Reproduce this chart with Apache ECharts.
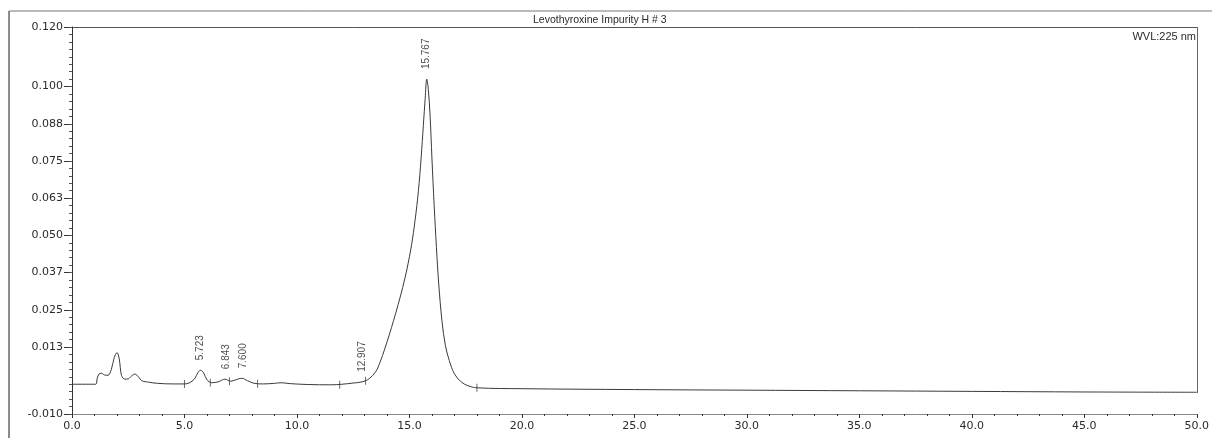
<!DOCTYPE html>
<html>
<head>
<meta charset="utf-8">
<script src="https://cdn.jsdelivr.net/npm/echarts@6/dist/echarts.min.js"></script>
<style>
html, body { margin: 0; padding: 0; background: #fff; }
#chart { width: 1212px; height: 438px; }
</style>
</head>
<body>
<div id="chart"></div>
<script>
// retention time (min) and absorbance (AU)
var times = [0.0, 1.05, 1.12, 1.2, 1.3, 1.45, 1.6, 1.75, 1.88, 2.0, 2.1, 2.2, 2.35, 2.5, 2.65, 2.8, 2.95, 3.1, 3.4, 3.8, 4.5,
    5.0, 5.2, 5.45, 5.6, 5.72, 5.85, 6.0, 6.2, 6.5, 6.8, 7.05, 7.25, 7.55, 7.8, 8.1, 8.5, 9.0, 9.3, 9.7, 10.5, 11.5, 12.0,
    12.5, 12.9, 13.2, 13.5, 13.7, 13.9, 14.1, 14.3, 14.5, 14.7, 14.9, 15.1, 15.25, 15.4, 15.52, 15.62, 15.7, 15.77,
    15.84, 15.92, 16.0, 16.1, 16.2, 16.3, 16.45, 16.6, 16.77, 17.0, 17.3, 17.6, 18.0, 20.0, 25.0, 30.0, 35.0, 40.0, 45.0, 50.0];
var absorbance = [0, 0, 0.0020, 0.0034, 0.0037, 0.0031, 0.0030, 0.0050, 0.0090, 0.0106, 0.0085, 0.0030, 0.0017, 0.0018, 0.0028, 0.0034, 0.0025, 0.0012, 0.0007, 0.0003, 0.0001,
    0.0001, 0.0004, 0.0018, 0.0040, 0.0047, 0.0038, 0.0015, 0.0005, 0.0008, 0.0017, 0.0010, 0.0014, 0.0020, 0.0012, 0.0003, 0.0001, 0.0003, 0.0005, 0.0002, -0.0001, -0.0002, 0.0000,
    0.0004, 0.0008, 0.0018, 0.0042, 0.0075, 0.0118, 0.0165, 0.0215, 0.0268, 0.0325, 0.0390, 0.0470, 0.0550, 0.0650, 0.0760, 0.0870, 0.0960, 0.1025,
    0.0990, 0.0900, 0.0760, 0.0600, 0.0460, 0.0340, 0.0210, 0.0130, 0.0080, 0.0035, 0.0008, -0.0005, -0.0012, -0.0015, -0.0018, -0.0020, -0.0022, -0.0024, -0.0026, -0.0027];

// labelled peaks
var peakTimes = [5.723, 6.843, 7.600, 12.907, 15.767];
var peakHeights = [0.0047, 0.0017, 0.0020, 0.0008, 0.1025];

// integration delimiters
var delimTimes = [5.0, 6.15, 7.0, 8.25, 11.9, 13.05, 18.0];
var delimValues = [0.0001, 0.0005, 0.0010, 0.0002, -0.0002, 0.0012, -0.0012];

// y tick labels (as printed)
var yTickValues = [-0.010, 0.0125, 0.025, 0.0375, 0.05, 0.0625, 0.075, 0.0875, 0.100, 0.120];
var yTickLabels = ['-0.010', '0.013', '0.025', '0.037', '0.050', '0.063', '0.075', '0.088', '0.100', '0.120'];

var traceData = times.map(function (t, i) { return [t, absorbance[i]]; });
var peakData = peakTimes.map(function (t, i) { return [t, peakHeights[i]]; });
var delimData = delimTimes.map(function (t, i) { return [t, delimValues[i]]; });

var txt = '#2a2a2a';
var fontFam = 'DejaVu Sans, Liberation Sans, sans-serif';

var option = {
    backgroundColor: '#fff',
    animation: false,
    title: [
        {
            text: 'Levothyroxine Impurity H # 3',
            left: 533, top: 15, padding: 0,
            textStyle: { fontSize: 10.5, fontWeight: 'normal', color: txt, fontFamily: 'Liberation Sans, sans-serif' }
        },
        {
            text: 'WVL:225 nm',
            right: 16, top: 31, padding: 0,
            textStyle: { fontSize: 11, fontWeight: 'normal', color: txt, fontFamily: 'Liberation Sans, sans-serif' }
        }
    ],
    grid: { left: 72, right: 14, top: 27, bottom: 24, containLabel: false },
    xAxis: {
        type: 'value',
        min: 0, max: 50, interval: 5,
        axisLine: { show: true, onZero: false, lineStyle: { color: '#888', width: 1 } },
        axisTick: { show: true, length: 4, lineStyle: { color: '#333' } },
        minorTick: { show: true, splitNumber: 5, length: 2, lineStyle: { color: '#333' } },
        splitLine: { show: false },
        axisLabel: {
            margin: 7, fontSize: 11, color: txt, fontFamily: fontFam,
            formatter: function (v) { return v.toFixed(1); }
        }
    },
    yAxis: [
        {
            type: 'value',
            min: -0.010, max: 0.120, interval: 0.0025,
            axisLine: { show: true, onZero: false, lineStyle: { color: '#333', width: 1 } },
            axisTick: { show: true, customValues: yTickValues, length: 8, lineStyle: { color: '#333' } },
            splitLine: { show: false },
            axisLabel: {
                customValues: yTickValues, margin: 9, fontSize: 11, color: txt, fontFamily: fontFam,
                formatter: function (v) {
                    var idx = yTickValues.findIndex(function (x) { return Math.abs(x - v) < 1e-9; });
                    return idx >= 0 ? yTickLabels[idx] : '';
                }
            }
        },
        {
            type: 'value',
            min: -0.010, max: 0.120, interval: 0.0025,
            position: 'left',
            axisLine: { show: false, onZero: false },
            axisTick: { show: true, length: 3, lineStyle: { color: '#555' } },
            splitLine: { show: false },
            axisLabel: { show: false }
        }
    ],
    series: [
        {
            name: 'trace',
            type: 'line',
            data: traceData,
            smooth: 0.35,
            symbol: 'none',
            lineStyle: { color: '#3a3a3a', width: 1 },
            z: 3
        },
        {
            name: 'delimiters',
            type: 'scatter',
            data: delimData,
            symbol: 'rect',
            symbolSize: [1, 8],
            itemStyle: { color: '#444' },
            silent: true
        },
        {
            name: 'peaks',
            type: 'scatter',
            data: peakData,
            symbolSize: 0,
            silent: true,
            label: {
                show: true,
                position: 'top',
                distance: 10,
                rotate: 90,
                align: 'left',
                verticalAlign: 'middle',
                fontSize: 10,
                fontFamily: 'Liberation Sans, sans-serif',
                color: '#222',
                formatter: function (p) { return p.value[0].toFixed(3); }
            }
        }
    ],
    graphic: [
        { type: 'line', shape: { x1: 9, y1: 11, x2: 1212, y2: 11 }, style: { stroke: '#777', lineWidth: 1 } },
        { type: 'line', shape: { x1: 9, y1: 11, x2: 9, y2: 438 }, style: { stroke: '#666', lineWidth: 1.5 } },
        { type: 'line', shape: { x1: 72, y1: 27.5, x2: 1198, y2: 27.5 }, style: { stroke: '#555', lineWidth: 1 } },
        { type: 'line', shape: { x1: 1197.5, y1: 27, x2: 1197.5, y2: 393 }, style: { stroke: '#666', lineWidth: 1 } }
    ]
};

var chart = echarts.init(document.getElementById('chart'));
chart.setOption(option);
</script>
</body>
</html>
